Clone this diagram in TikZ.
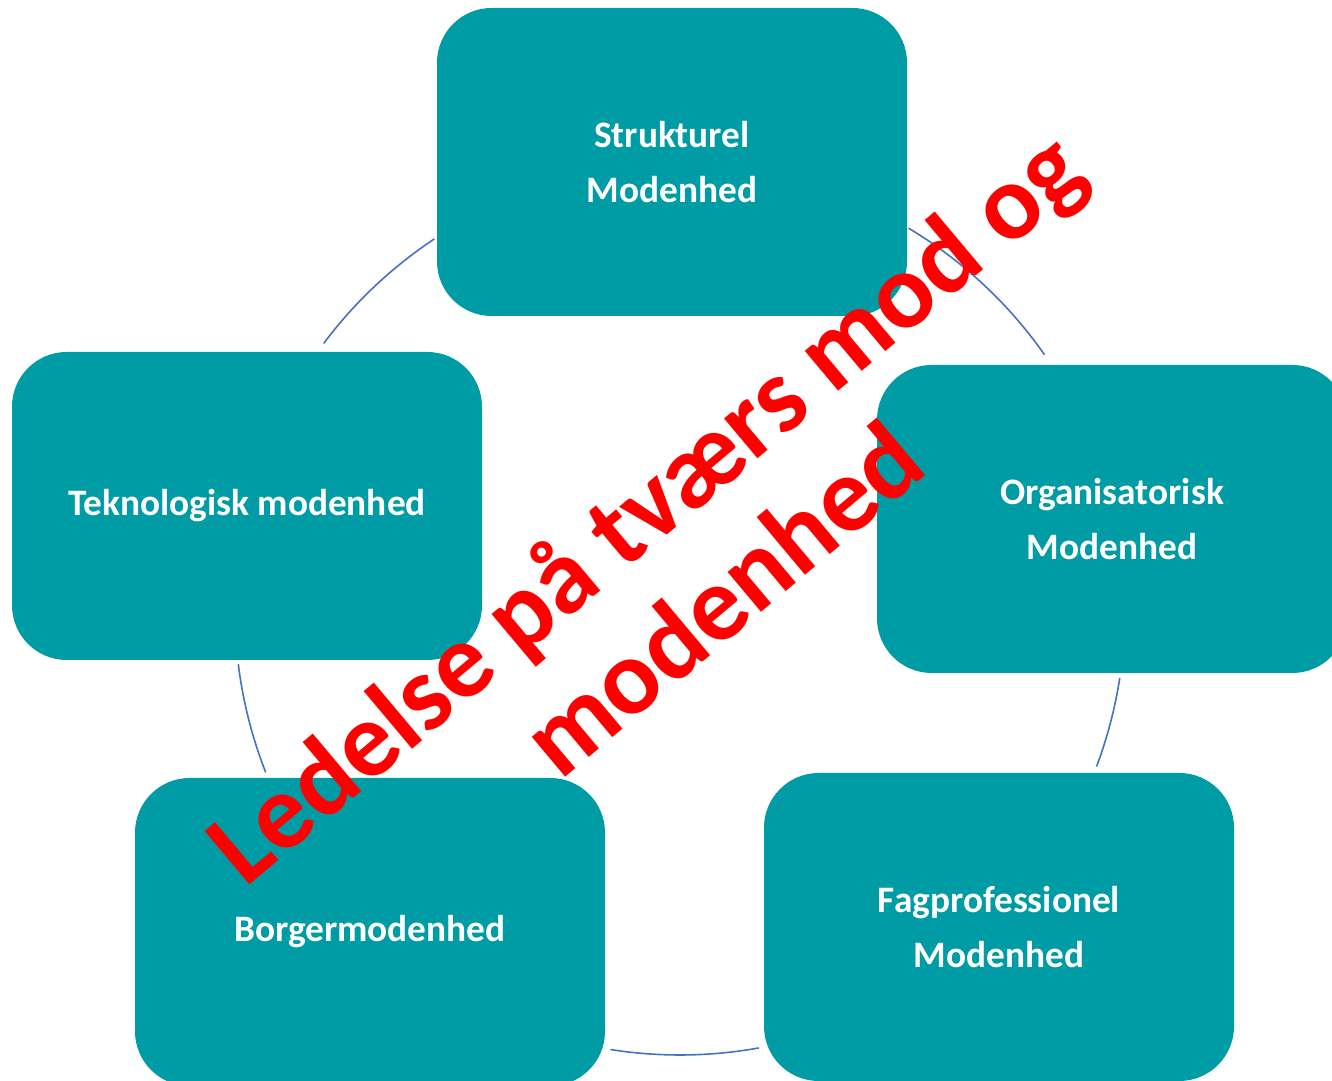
\documentclass[tikz,border=0pt]{standalone}
\usepackage{fontspec}
\setmainfont{Carlito}
\definecolor{petrol}{HTML}{009CA6}
\definecolor{ringblue}{HTML}{4472C4}
\tikzset{
    felt/.style={
           rectangle,
           rounded corners=41pt,
           fill=petrol,
           minimum width=352.5pt,
           minimum height=231pt,
           text=white,
           font=\fontsize{28}{41}\selectfont\bfseries,
           align=center,
           },
}

\begin{document}
\begin{tikzpicture}[
  x=0.75pt,y=0.75pt,
  ring/.style={draw=ringblue,line width=1.2pt},
  overskrift/.style={text=red,font=\fontsize{80.5}{90}\selectfont\bfseries,align=center,rotate=40}]
\useasboundingbox (0,0) rectangle (1332,1081);
\clip (0,0) rectangle (1332,1081);
\coordinate (midt) at (680,471);
% ring between the fields
\draw[ring] (midt) ++(59.1:445) arc[start angle=59.1,end angle=35,radius=445];
\draw[ring] (midt) ++(-8.8:445) arc[start angle=-8.8,end angle=-20.6,radius=445];
\draw[ring] (midt) ++(280.2:445) arc[start angle=280.2,end angle=261,radius=445];
\draw[ring] (midt) ++(201.4:445) arc[start angle=201.4,end angle=187,radius=445];
\draw[ring] (midt) ++(143.2:445) arc[start angle=143.2,end angle=123.5,radius=445];

\node[felt] (struktur) at (672,919) {Strukturel\\Modenhed};
\node[felt] (teknologi) at (247,575) {Teknologisk modenhed};
\node[felt] (organisation) at (1112,562) {Organisatorisk\\Modenhed};
\node[felt] (fag) at (999,154) {Fagprofessionel\\Modenhed};
\node[felt] (borger) at (370,149) {Borgermodenhed};

\node[overskrift] (ledelse) at (682,530) {Ledelse på tværs mod og\\modenhed};
\end{tikzpicture}
\end{document}
